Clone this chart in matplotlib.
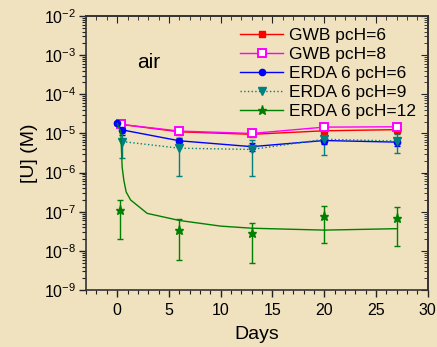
import matplotlib
matplotlib.use("Agg")
import matplotlib.pyplot as plt
from matplotlib.ticker import LogLocator, MultipleLocator, NullFormatter
from matplotlib.lines import Line2D
import numpy as np

plt.rcParams['font.family'] = ['Liberation Sans', 'DejaVu Sans']
plt.rcParams['mathtext.fontset'] = 'custom'
plt.rcParams['mathtext.rm'] = 'Liberation Sans'
plt.rcParams['mathtext.it'] = 'Liberation Sans:italic'
plt.rcParams['mathtext.bf'] = 'Liberation Sans:bold'
plt.rcParams['mathtext.default'] = 'regular'

# Data
days = [0.4, 6, 13, 20, 27]
gwb6 = [1.7e-5, 1.1e-5, 9.5e-6, 1.17e-5, 1.25e-5]
gwb6_err = [1.0e-6, 8e-7, 8e-7, 1.0e-6, 1.0e-6]
gwb8 = [1.7e-5, 1.15e-5, 1.0e-5, 1.45e-5, 1.48e-5]
gwb8_err = [1.0e-6, 8e-7, 8e-7, 1.0e-6, 1.0e-6]

erda6_days = [0, 0.5, 6, 13, 20, 27]
erda6 = [1.8e-5, 1.23e-5, 6.5e-6, 4.6e-6, 6.6e-6, 6.0e-6]
erda6_err = [2e-6, 3e-6, 1.2e-6, 1.0e-6, 1.2e-6, 1.2e-6]

erda9_days = [0.5, 6, 13, 20, 27]
erda9 = [6.2e-6, 4.2e-6, 3.9e-6, 7.1e-6, 6.4e-6]
erda9_err = [3.8e-6, 3.4e-6, 3.1e-6, 4.3e-6, 3.2e-6]

erda12_days = [0.3, 6, 13, 20, 27]
erda12 = [1.1e-7, 3.5e-8, 2.9e-8, 7.7e-8, 7.1e-8]
erda12_err = [0.9e-7, 2.9e-8, 2.4e-8, 6.1e-8, 5.8e-8]

# model curve for pcH=12
fit12_days = [0, 0.35, 0.48, 0.64, 0.87, 1.3, 2.1, 2.9, 6, 10, 13, 20, 27]
fit12 = [1.8e-5, 1.1e-5, 1.4e-6, 6.5e-7, 3.2e-7, 2.0e-7, 1.35e-7, 9.1e-8,
         6.0e-8, 4.3e-8, 3.8e-8, 3.4e-8, 3.7e-8]

labels = ['GWB pcH=6', 'GWB pcH=8', 'ERDA 6 pcH=6', 'ERDA 6 pcH=9', 'ERDA 6 pcH=12']

bg = '#F0E1BF'
fig = plt.figure(figsize=(4.37, 3.47), dpi=100, facecolor=bg)
ax = fig.add_axes([0.197, 0.164, 0.782, 0.790])
ax.set_facecolor(bg)

red, mag, blue, teal, green = '#FF0000', '#FF00FF', '#0000FF', '#008080', '#008000'

ax.errorbar(days, gwb6, yerr=gwb6_err, color=red, marker='s', ms=4.5,
            mfc=red, mec=red, lw=1, capsize=2.5, elinewidth=1)
ax.errorbar(days, gwb8, yerr=gwb8_err, color=mag, marker='s', ms=5.5,
            mfc='white', mec=mag, mew=1.4, lw=1, capsize=2.5, elinewidth=1)
ax.errorbar(erda6_days, erda6, yerr=erda6_err, color=blue, marker='o', ms=4.5,
            lw=1, capsize=2.5, elinewidth=1)
ax.errorbar(erda9_days, erda9, yerr=erda9_err, color=teal, marker='v', ms=6,
            lw=1, ls=':', capsize=2.5, elinewidth=1)
ax.plot(fit12_days, fit12, color=green, lw=1, zorder=3)
ax.errorbar(erda12_days, erda12, yerr=erda12_err, color=green, marker='*', ms=6.5,
            lw=1, ls='none', capsize=2.5, elinewidth=1)

handles = [
    Line2D([], [], color=red, marker='s', ms=4.5, mfc=red, mec=red, lw=1),
    Line2D([], [], color=mag, marker='s', ms=5.5, mfc='white', mec=mag, mew=1.4, lw=1),
    Line2D([], [], color=blue, marker='o', ms=4.5, lw=1),
    Line2D([], [], color=teal, marker='v', ms=6, lw=1, ls=':'),
    Line2D([], [], color=green, marker='*', ms=6.5, lw=1),
]

ax.set_yscale('log')
ax.set_xlim(-3, 30)
ax.set_ylim(1e-9, 1e-2)
ax.xaxis.set_major_locator(MultipleLocator(5))
ax.xaxis.set_minor_locator(MultipleLocator(1))
ax.yaxis.set_major_locator(LogLocator(base=10, numticks=20))
ax.yaxis.set_minor_locator(LogLocator(base=10, subs=np.arange(2, 10), numticks=20))
ax.yaxis.set_minor_formatter(NullFormatter())

ax.tick_params(axis='both', which='both', labelsize=11.5, color='#222222')
ax.tick_params(which='major', length=5, width=1)
ax.tick_params(which='minor', length=3, width=0.8)
ax.tick_params(axis='x', which='both', direction='out', top=False, pad=4)
ax.tick_params(axis='y', which='both', direction='out', right=False, pad=2)

axt = ax.secondary_xaxis('top')
axt.xaxis.set_major_locator(MultipleLocator(5))
axt.xaxis.set_minor_locator(MultipleLocator(1))
axt.tick_params(which='both', direction='in', labeltop=False, color='#222222')
axt.tick_params(which='major', length=5)
axt.tick_params(which='minor', length=3)
axr = ax.secondary_yaxis('right')
axr.yaxis.set_major_locator(LogLocator(base=10, numticks=20))
axr.yaxis.set_minor_locator(LogLocator(base=10, subs=np.arange(2, 10), numticks=20))
axr.tick_params(which='both', direction='in', labelright=False, color='#222222')
axr.tick_params(which='major', length=5)
axr.tick_params(which='minor', length=3)
axr.yaxis.set_major_formatter(NullFormatter())
axr.yaxis.set_minor_formatter(NullFormatter())

for sp in list(ax.spines.values()) + [axt.spines['top'], axr.spines['right']]:
    sp.set_linewidth(1.2)
    sp.set_color('#333333')

ax.set_xlabel('Days', fontsize=14, labelpad=6)
ax.set_ylabel('[U] (M)', fontsize=14, labelpad=4)
ax.text(0.15, 0.81, 'air', transform=ax.transAxes, fontsize=15)

leg = ax.legend(handles, labels, loc='upper right', bbox_to_anchor=(1.0, 1.0),
                frameon=False, fontsize=12.5, handlelength=2.5, labelspacing=0.22,
                borderaxespad=0.3, handletextpad=0.3)

fig.savefig('out.png', dpi=100, facecolor=bg)
